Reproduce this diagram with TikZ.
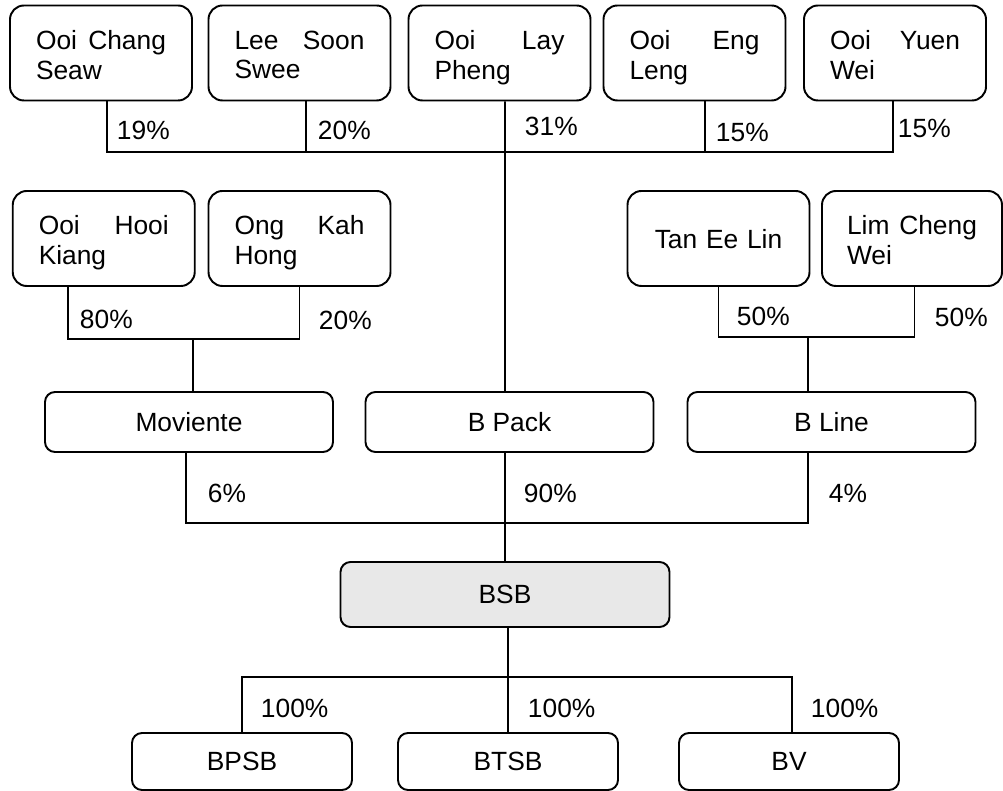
\documentclass[tikz,border=0pt]{standalone}
\usepackage{fontspec}
\setmainfont{Liberation Sans}
\usepackage{tikz}
\usepackage{xcolor}

\begin{document}
\begin{tikzpicture}[line width=1.1pt,font=\fontsize{15}{17}\selectfont,
  person/.style={draw,rounded corners=2.8mm,minimum width=3.64cm,minimum height=1.9cm,text width=2.6cm,text depth=15pt,align=justify},
  firm/.style={draw,rounded corners=2mm,minimum width=5.76cm,minimum height=1.2cm},
  pct/.style={anchor=west,inner sep=0pt}]
\useasboundingbox (0,0) rectangle (20.06,15.82);
\node[person] (ocs) at (2.02,14.76) {Ooi\hfill Chang\\Seaw};
\node[person] (lss) at (5.99,14.76) {Lee\hfill Soon\\Swee};
\node[person] (olp) at (9.99,14.76) {Ooi\hfill Lay\\Pheng};
\node[person] (oel) at (13.89,14.76) {Ooi\hfill Eng\\Leng};
\node[person] (oyw) at (17.9,14.76) {Ooi\hfill Yuen\\Wei};
\node[person] (ohk) at (2.075,11.05) {Ooi\hfill Hooi\\Kiang};
\node[person] (okh) at (5.99,11.05) {Ong\hfill Kah\\Hong};
\node[person,align=center,text depth=0pt] (tel) at (14.37,11.05) {Tan Ee Lin};
\node[person,minimum width=3.6cm] (lcw) at (18.24,11.05) {Lim\hfill Cheng\\Wei};
\node[firm] (mov) at (3.78,7.38) {Moviente};
\node[firm] (bpk) at (10.19,7.38) {B Pack};
\node[firm] (bln) at (16.63,7.38) {B Line};
\node[firm,fill=black!9,minimum width=6.58cm,minimum height=1.3cm] (bsb) at (10.1,3.93) {BSB};
\node[firm,minimum width=4.4cm,minimum height=1.14cm] (bpsb) at (4.84,0.59) {BPSB};
\node[firm,minimum width=4.4cm,minimum height=1.14cm] (btsb) at (10.16,0.59) {BTSB};
\node[firm,minimum width=4.4cm,minimum height=1.14cm] (bv) at (15.78,0.59) {BV};
\coordinate (topbar) at (10.1,12.78);
\coordinate (leftbar) at (3.86,9.04);
\coordinate (rightbar) at (16.16,9.08);
\coordinate (midbar) at (10.1,5.36);
\coordinate (lowbar) at (10.16,2.28);
\draw ([xshift=1.2mm]ocs.south) |- (topbar) -| ([xshift=-0.4mm]oyw.south);
\draw ([xshift=1.3mm]lss.south) |- (topbar);
\draw ([xshift=2.1mm]oel.south) |- (topbar);
\draw ([xshift=1.1mm]olp.south) -- ([xshift=-0.9mm]bpk.north);
\draw ([xshift=-7.2mm]ohk.south) |- (leftbar) -| (okh.south);
\draw (leftbar) -- ([xshift=0.8mm]mov.north);
\draw (tel.south) |- (rightbar) -| ([xshift=0.5mm]lcw.south);
\draw (rightbar) -- ([xshift=-4.7mm]bln.north);
\draw ([xshift=-0.6mm]mov.south) |- (midbar) -| ([xshift=-4.7mm]bln.south);
\draw ([xshift=-0.9mm]bpk.south) -- (midbar) -- (bsb.north);
\draw ([xshift=0.6mm]bsb.south) -- (lowbar);
\draw (bpsb.north) |- (lowbar) -| ([xshift=0.6mm]bv.north);
\draw (lowbar) -- (btsb.north);
\node[pct] (p1) at (2.32,13.22) {19\%};
\node[pct] (p2) at (6.34,13.22) {20\%};
\node[pct] (p3) at (10.48,13.30) {31\%};
\node[pct] (p4) at (14.30,13.18) {15\%};
\node[pct] (p5) at (17.94,13.26) {15\%};
\node[pct] (p6) at (1.58,9.44) {80\%};
\node[pct] (p7) at (6.36,9.42) {20\%};
\node[pct] (p8) at (14.72,9.50) {50\%};
\node[pct] (p9) at (18.68,9.48) {50\%};
\node[pct] (p10) at (4.14,5.96) {6\%};
\node[pct] (p11) at (10.46,5.96) {90\%};
\node[pct] (p12) at (16.56,5.96) {4\%};
\node[pct] (p13) at (5.20,1.66) {100\%};
\node[pct] (p14) at (10.54,1.66) {100\%};
\node[pct] (p15) at (16.20,1.66) {100\%};
\end{tikzpicture}
\end{document}
